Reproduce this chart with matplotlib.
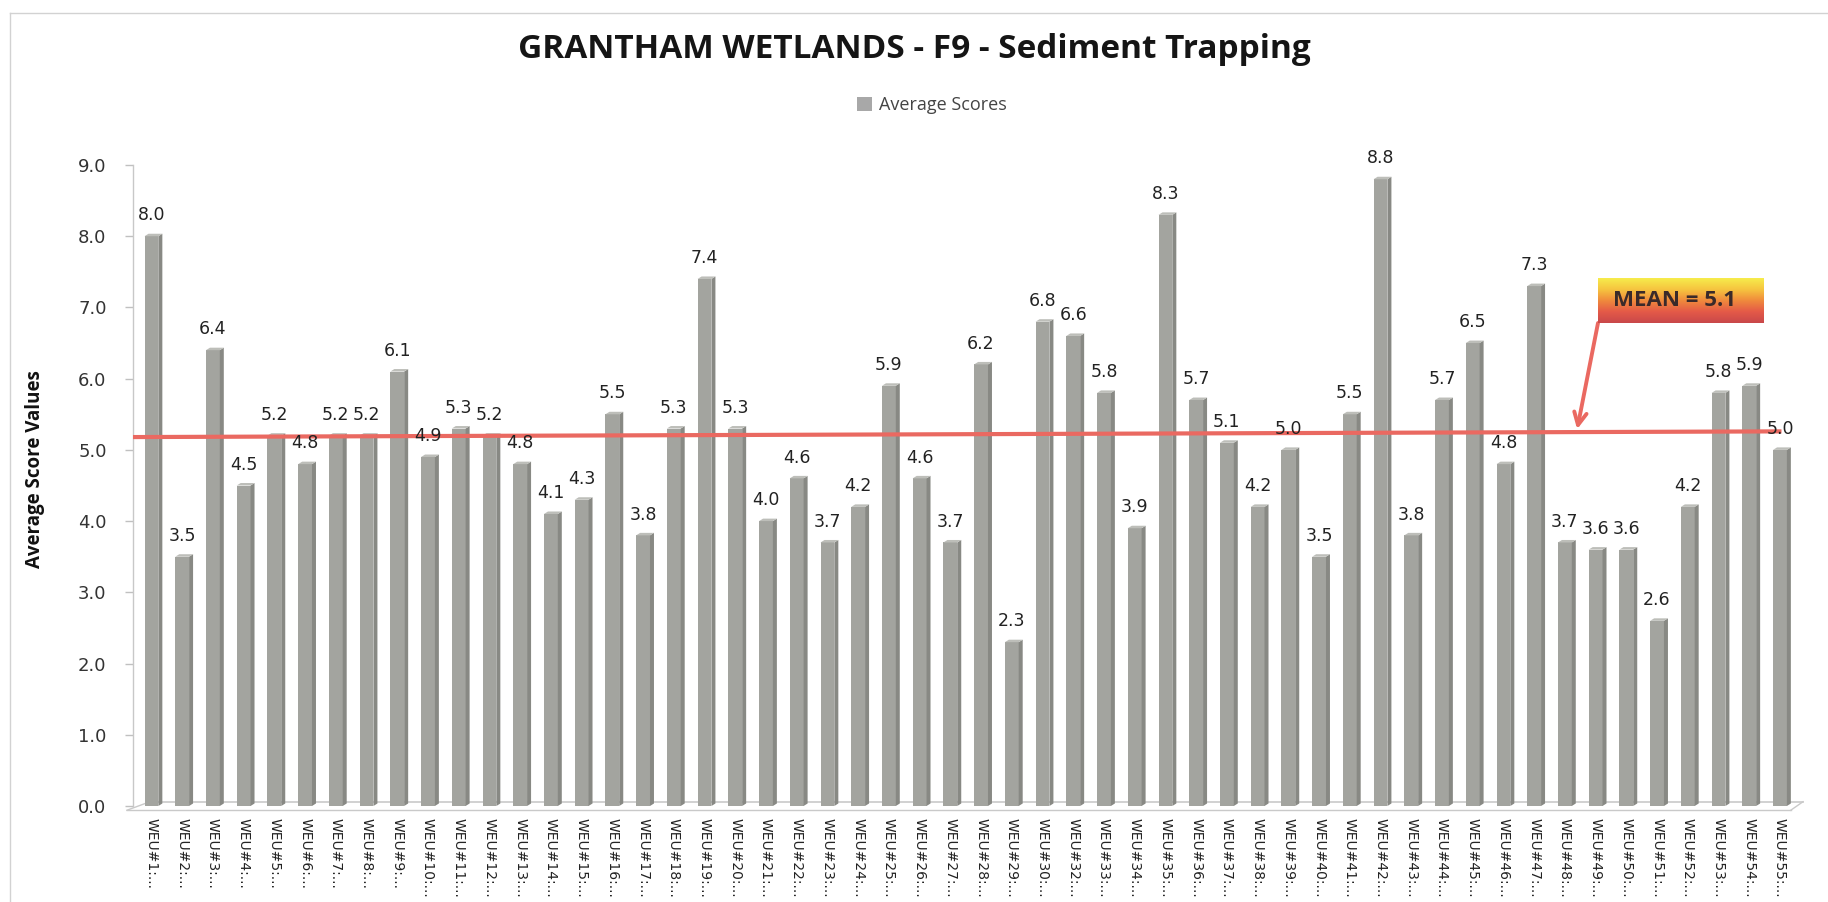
import matplotlib
matplotlib.use('Agg')
import matplotlib.pyplot as plt
import numpy as np
from matplotlib.patches import Polygon, Patch
from matplotlib.lines import Line2D
from matplotlib.colors import LinearSegmentedColormap

# ---------------- data ----------------
site_ids = list(range(1, 31)) + list(range(32, 56))
categories = [f"WEU#{i}:..." for i in site_ids]
scores = [8.0, 3.5, 6.4, 4.5, 5.2, 4.8, 5.2, 5.2, 6.1, 4.9,
          5.3, 5.2, 4.8, 4.1, 4.3, 5.5, 3.8, 5.3, 7.4, 5.3,
          4.0, 4.6, 3.7, 4.2, 5.9, 4.6, 3.7, 6.2, 2.3, 6.8,
          6.6, 5.8, 3.9, 8.3, 5.7, 5.1, 4.2, 5.0, 3.5, 5.5,
          8.8, 3.8, 5.7, 6.5, 4.8, 7.3, 3.7, 3.6, 3.6, 2.6,
          4.2, 5.8, 5.9, 5.0]
score_labels = [f"{v:.1f}" for v in scores]
series_name = "Average Scores"
title_text = "GRANTHAM WETLANDS - F9 - Sediment Trapping"
ylabel_text = "Average Score Values"
mean_text = "MEAN = 5.1"
mean_line_y = [5.18, 5.26]   # hand-drawn mean line (left, right)
yticks = [0.0, 1.0, 2.0, 3.0, 4.0, 5.0, 6.0, 7.0, 8.0, 9.0]

# ---------------- figure ----------------
W_PX, H_PX = 1828, 902
fig = plt.figure(figsize=(W_PX / 100, H_PX / 100), dpi=100)
fig.patch.set_facecolor('white')

def fx(px):
    return px / W_PX

def fy(py):
    return 1 - py / H_PX

ax = fig.add_axes([fx(133), fy(806), fx(1803) - fx(133), fy(165) - fy(806)])
ax.set_facecolor('none')

x = np.arange(len(scores))
bw = 0.45
dx, dy = 0.13, 0.035
front_c = '#a3a49f'
side_c = '#888984'
top_c = '#bdbeb9'

ax.set_xlim(-0.6, len(scores) - 1 + 0.75)
ax.set_ylim(0, 9)

# floor
xl, xr = ax.get_xlim()
floor_c = '#c9c9c9'
ax.add_line(Line2D([xl + 0.55, xr], [0.06, 0.06], color=floor_c, lw=1.2, zorder=1, clip_on=False))
ax.add_line(Line2D([xl - 0.2, xr - 0.4], [-0.06, -0.06], color=floor_c, lw=1.0, zorder=1, clip_on=False))
ax.add_line(Line2D([xl - 0.2, xl + 0.55], [-0.06, 0.06], color=floor_c, lw=1.0, zorder=1, clip_on=False))
ax.add_line(Line2D([xr - 0.4, xr], [-0.06, 0.06], color=floor_c, lw=1.0, zorder=1, clip_on=False))

bars = ax.bar(x, scores, width=bw, color=front_c, zorder=3, label=series_name)
for xi, v in zip(x, scores):
    r = xi + bw / 2
    l = xi - bw / 2
    ax.add_patch(Polygon([(r, 0), (r + dx, dy), (r + dx, v + dy), (r, v)],
                         closed=True, facecolor=side_c, edgecolor='none', zorder=3))
    ax.add_patch(Polygon([(l, v), (l + dx, v + dy), (r + dx, v + dy), (r, v)],
                         closed=True, facecolor=top_c, edgecolor='none', zorder=3))

for xi, v, s in zip(x, scores, score_labels):
    ax.annotate(s, (xi, v), xytext=(0, 8.5), textcoords='offset points',
                ha='center', va='bottom', fontsize=12.5, color='#222222',
                family='DejaVu Sans', zorder=5)

# axes styling
for sp in ['top', 'right', 'bottom']:
    ax.spines[sp].set_visible(False)
ax.spines['left'].set_color('#c8c8c8')
ax.spines['left'].set_linewidth(1.0)
ax.set_yticks(yticks)
ax.set_yticklabels([f"{t:.1f}" for t in yticks])
ax.tick_params(axis='y', length=6, width=1, color='#c0c0c0', labelsize=13,
               labelcolor='#333333', pad=13)
ax.set_xticks(x)
ax.set_xticklabels(categories, rotation=270, ha='center', va='top',
                   fontsize=10, color='#222222', family='DejaVu Sans')
ax.tick_params(axis='x', length=0, pad=9)

# mean line
ax.add_line(Line2D([xl, 53.05], mean_line_y, color='#ea6961', lw=3.0, zorder=4,
                   solid_capstyle='butt'))

# arrow from mean box to line
arrow_x = 46.4
arrow_y = mean_line_y[0] + (mean_line_y[1] - mean_line_y[0]) * (arrow_x - xl) / (53.05 - xl)
ax.annotate('', xy=(arrow_x, arrow_y + 0.04), xycoords='data',
            xytext=(fx(1598), fy(323)), textcoords='figure fraction',
            arrowprops=dict(arrowstyle='->, head_length=0.9, head_width=0.45',
                            color='#ea6961', lw=2.8, shrinkA=0, shrinkB=0),
            zorder=6)

# mean gradient box
bax = fig.add_axes([fx(1598), fy(323), fx(1764) - fx(1598), fy(278) - fy(323)])
grad_cmap = LinearSegmentedColormap.from_list(
    'meanbox', ['#f7ec4c', '#f6c43f', '#f08a3c', '#e45a48', '#c9484a'])
grad = np.linspace(0, 1, 100).reshape(-1, 1)
bax.imshow(grad, aspect='auto', cmap=grad_cmap, extent=[0, 1, 0, 1], origin='upper')
bax.set_xlim(0, 1)
bax.set_ylim(0, 1)
bax.axis('off')
bax.text(0.46, 0.5, mean_text, ha='center', va='center', fontsize=16,
         fontweight='bold', family='Open Sans', color='#3a2a2a')

# title
fig.text(0.5, fy(49), title_text, ha='center', va='center', fontsize=24,
         fontweight='bold', family='Open Sans', color='#151515')

# y label
fig.text(fx(35), fy(469), ylabel_text, rotation=90, ha='center', va='center',
         fontsize=13.5, fontweight='bold', family='Open Sans', color='#111111')

# legend
fig.legend(handles=[Patch(facecolor='#a8a8a8', edgecolor='none')], labels=[series_name],
           loc='center', bbox_to_anchor=(fx(932), fy(105)), frameon=False,
           prop={'family': 'Open Sans', 'size': 13}, handlelength=0.8,
           handleheight=0.8, handletextpad=0.4, labelcolor='#444444')

# outer chart border (top and left)
fig.add_artist(Line2D([fx(10), 1], [fy(13), fy(13)], color='#d2d2d2', lw=1.0,
                      transform=fig.transFigure))
fig.add_artist(Line2D([fx(10), fx(10)], [0, fy(13)], color='#d2d2d2', lw=1.0,
                      transform=fig.transFigure))

fig.savefig('out.png', dpi=100, facecolor='white')
